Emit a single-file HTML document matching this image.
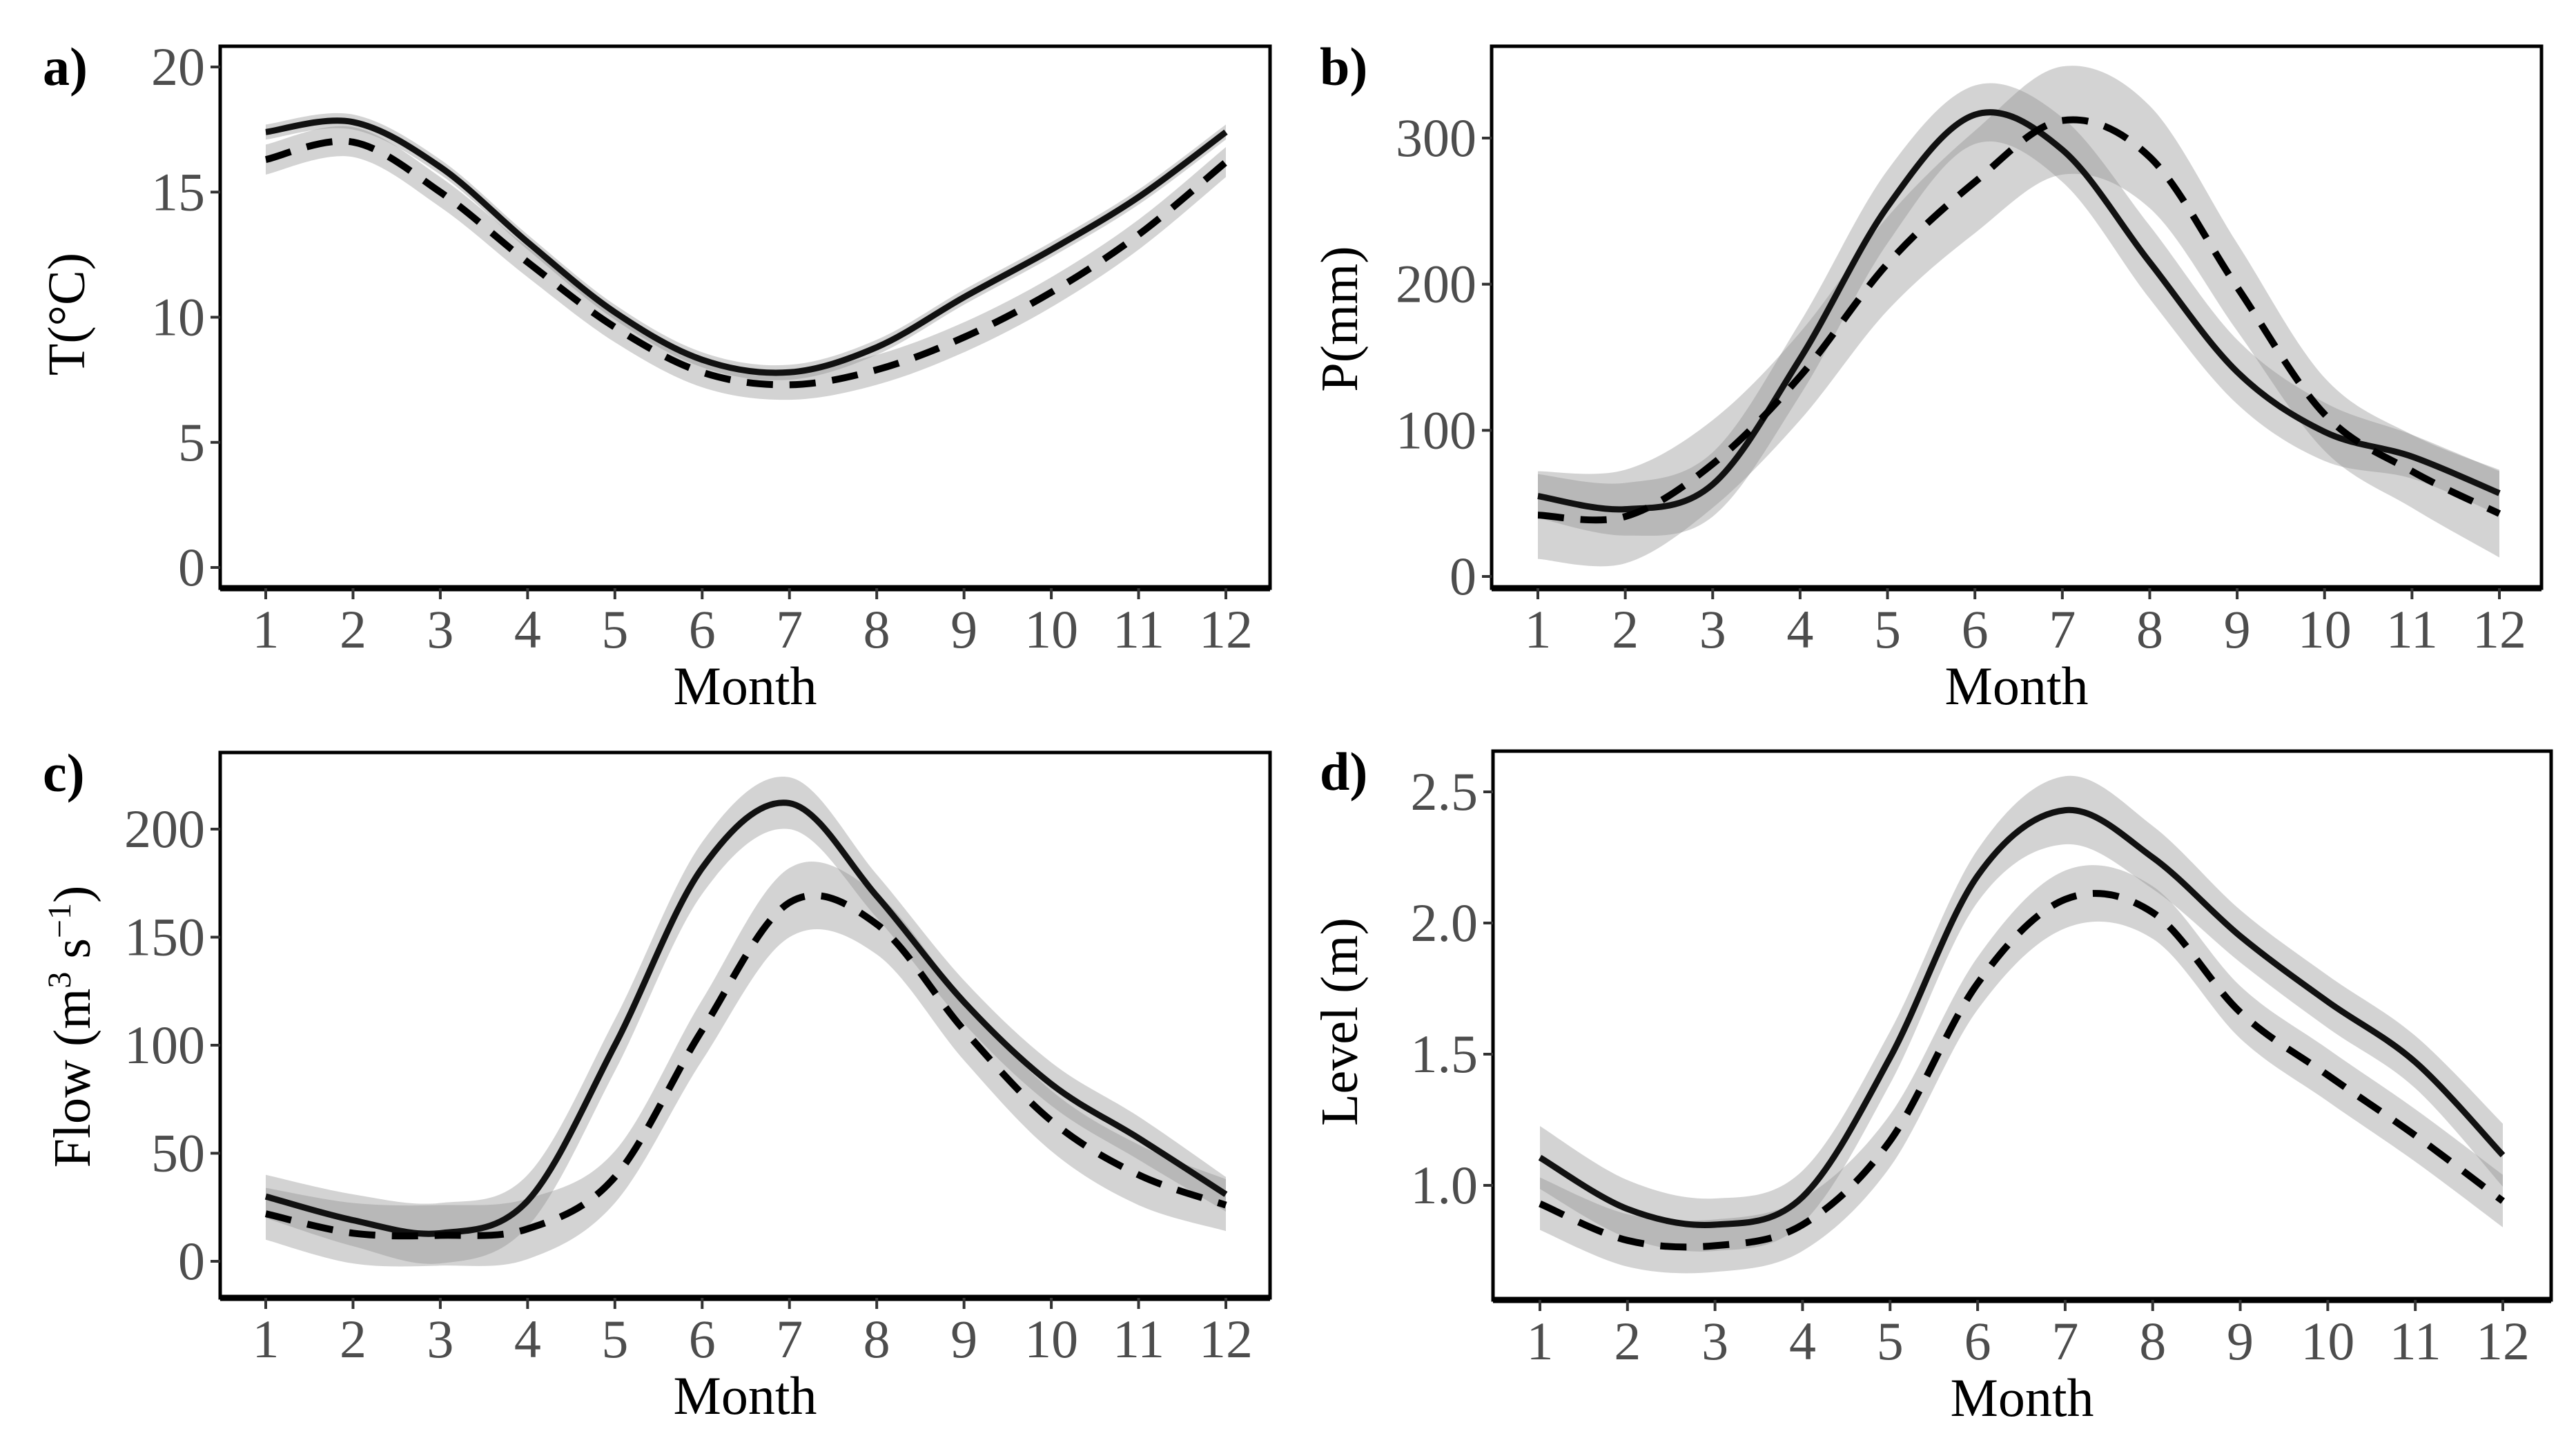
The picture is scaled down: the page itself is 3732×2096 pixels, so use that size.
<!DOCTYPE html>
<html><head><meta charset="utf-8"><style>
html,body{margin:0;padding:0;background:#fff}
svg{display:block}
text{font-family:"Liberation Serif",serif}
</style></head><body>
<svg id="chart" width="3732" height="2096" viewBox="0 0 3732 2096" xmlns="http://www.w3.org/2000/svg"></svg>
<script>
const months=[1,2,3,4,5,6,7,8,9,10,11,12];
// a) Temperature
const tSolid=[17.4,17.8,16.0,13.0,10.2,8.3,7.8,8.8,10.8,12.7,14.8,17.4];
const tDashed=[16.3,17.0,15.0,12.2,9.6,7.8,7.3,7.9,9.2,11.0,13.3,16.2];
const tSolidHW=[0.3,0.3,0.3,0.3,0.3,0.3,0.3,0.3,0.3,0.3,0.3,0.3];
const tDashedHW=[0.6,0.6,0.6,0.6,0.6,0.6,0.6,0.6,0.6,0.6,0.6,0.6];
const tTicks=[0,5,10,15,20];
// b) Precipitation
const pSolid=[55,46,63,149,253,316,292,215,140,99,82,57];
const pDashed=[42,41,77,137,214,270,312,287,198,111,72,43];
const pSolidHW=[15,18,22,25,25,20,22,25,22,20,15,15];
const pDashedHW=[30,32,30,30,32,35,37,35,30,25,25,30];
const pTicks=[0,100,200,300];
// c) Flow
const fSolid=[30,19,13,28,100,182,212,169,120,82,57,31];
const fDashed=[22,13,12,15,39,107,166,156,107,65,40,26];
const fSolidHW=[10,12,14,12,12,12,12,10,10,10,10,8];
const fDashedHW=[12,14,14,14,12,14,16,14,14,14,14,12];
const fTicks=[0,50,100,150,200];
// d) Level
const lSolid=[1.106,0.91,0.85,0.956,1.487,2.18,2.43,2.25,1.95,1.70,1.47,1.115];
const lDashed=[0.93,0.79,0.77,0.85,1.17,1.77,2.09,2.04,1.66,1.42,1.19,0.94];
const lSolidHW=[0.12,0.11,0.1,0.1,0.1,0.1,0.13,0.12,0.1,0.1,0.1,0.12];
const lDashedHW=[0.1,0.1,0.1,0.1,0.1,0.1,0.11,0.1,0.1,0.1,0.1,0.1];
const lTicks=[1.0,1.5,2.0,2.5];

const NS="http://www.w3.org/2000/svg";
const svg=document.getElementById('chart');
function el(tag,attrs,parent){const e=document.createElementNS(NS,tag);for(const k in attrs)e.setAttribute(k,attrs[k]);(parent||svg).appendChild(e);return e;}

function spline(pts){
  let d="M"+pts[0][0].toFixed(1)+","+pts[0][1].toFixed(1);
  for(let i=0;i<pts.length-1;i++){
    const p0=pts[Math.max(0,i-1)],p1=pts[i],p2=pts[i+1],p3=pts[Math.min(pts.length-1,i+2)];
    const c1=[p1[0]+(p2[0]-p0[0])/6,p1[1]+(p2[1]-p0[1])/6];
    const c2=[p2[0]-(p3[0]-p1[0])/6,p2[1]-(p3[1]-p1[1])/6];
    d+=" C"+c1[0].toFixed(1)+","+c1[1].toFixed(1)+" "+c2[0].toFixed(1)+","+c2[1].toFixed(1)+" "+p2[0].toFixed(1)+","+p2[1].toFixed(1);
  }
  return d;
}
function splineCont(pts){return spline(pts).replace(/^M/," L");}

function panel(cfg){
  const g=el('g',{});
  
  
  const xs=m=>cfg.x1+(m-1)*(cfg.x12-cfg.x1)/11;
  const ys=v=>cfg.yA+(v-cfg.vA)*(cfg.yB-cfg.yA)/(cfg.vB-cfg.vA);
  [[cfg.solid,cfg.solidHW,'solid'],[cfg.dashed,cfg.dashedHW,'dashed']].forEach(([s,hw,nm])=>{
    const up=months.map((m,i)=>[xs(m),ys(s[i]+hw[i])]);
    const lo=months.map((m,i)=>[xs(m),ys(s[i]-hw[i])]).reverse();
    const r=el('path',{d:spline(up)+splineCont(lo)+" Z",fill:'#8c8c8c','fill-opacity':'0.38',stroke:'none'},g);
    
    
  });
  const ls=el('path',{d:spline(months.map((m,i)=>[xs(m),ys(cfg.solid[i])])),fill:'none',stroke:'#111','stroke-width':9},g);
  
  
  const ld=el('path',{d:spline(months.map((m,i)=>[xs(m),ys(cfg.dashed[i])])),fill:'none',stroke:'#000','stroke-width':10,'stroke-dasharray':'38 24'},g);
  
  
  const fr=el('rect',{x:cfg.L,y:cfg.T,width:cfg.R-cfg.L,height:cfg.B-cfg.T,fill:'none',stroke:'#000','stroke-width':5},g);
  
  
  const ax=el('line',{x1:cfg.L,x2:cfg.R,y1:cfg.B,y2:cfg.B,stroke:'#000','stroke-width':9},g);
  
  
  months.forEach(m=>{
    const t=el('line',{x1:xs(m),x2:xs(m),y1:cfg.B,y2:cfg.B+16,stroke:'#333','stroke-width':4},g);
    
    
    const lb=el('text',{x:xs(m),y:cfg.B+86,'text-anchor':'middle','font-size':78,fill:'#4d4d4d'},g);
    lb.textContent=m;
    
    
  });
  cfg.ticks.forEach(v=>{
    const t=el('line',{x1:cfg.L-14,x2:cfg.L,y1:ys(v),y2:ys(v),stroke:'#333','stroke-width':4},g);
    
    
    const lb=el('text',{x:cfg.L-22,y:ys(v)+26,'text-anchor':'end','font-size':78,fill:'#4d4d4d'},g);
    lb.textContent=cfg.fmt(v);
    
    
  });
  const xt=el('text',{x:(cfg.L+cfg.R)/2,y:cfg.B+168,'text-anchor':'middle','font-size':78,fill:'#000'},g);
  xt.textContent='Month';
  
  
  const yt=el('text',{x:0,y:0,'text-anchor':'middle','font-size':76,fill:'#000',transform:`translate(${cfg.ytX},${cfg.ytY}) rotate(-90)`},g);
  yt.innerHTML=cfg.ytitle;
  
  
  const pl=el('text',{x:cfg.labX,y:cfg.T+56,'font-size':78,'font-weight':'bold',fill:'#000'},g);
  pl.textContent=cfg.id+')';
  
  
}
panel({id:'a',L:319,R:1840,T:67,B:852,x1:385,x12:1776,yA:822,vA:0,yB:97,vB:20,
  solid:tSolid,dashed:tDashed,solidHW:tSolidHW,dashedHW:tDashedHW,ticks:tTicks,fmt:v=>String(v),
  ytitle:'T(°C)',ytX:122,ytY:455,labX:62});
panel({id:'b',L:2161,R:3682,T:67,B:852,x1:2228,x12:3621,yA:835,vA:0,yB:200,vB:300,
  solid:pSolid,dashed:pDashed,solidHW:pSolidHW,dashedHW:pDashedHW,ticks:pTicks,fmt:v=>String(v),
  ytitle:'P(mm)',ytX:1966,ytY:462,labX:1912});
panel({id:'c',L:319,R:1840,T:1090,B:1880,x1:385,x12:1776,yA:1827,vA:0,yB:1201,vB:200,
  solid:fSolid,dashed:fDashed,solidHW:fSolidHW,dashedHW:fDashedHW,ticks:fTicks,fmt:v=>String(v),
  ytitle:'Flow (m<tspan dy="-28" font-size="48">3</tspan><tspan dy="28"> s</tspan><tspan dy="-28" font-size="48">−1</tspan><tspan dy="28">)</tspan>',ytX:130,ytY:1487,labX:62});
panel({id:'d',L:2163,R:3696,T:1088,B:1883,x1:2231,x12:3626,yA:1717,vA:1.0,yB:1147,vB:2.5,
  solid:lSolid,dashed:lDashed,solidHW:lSolidHW,dashedHW:lDashedHW,ticks:lTicks,fmt:v=>v.toFixed(1),
  ytitle:'Level (m)',ytX:1966,ytY:1480,labX:1912});
</script>
</body></html>
